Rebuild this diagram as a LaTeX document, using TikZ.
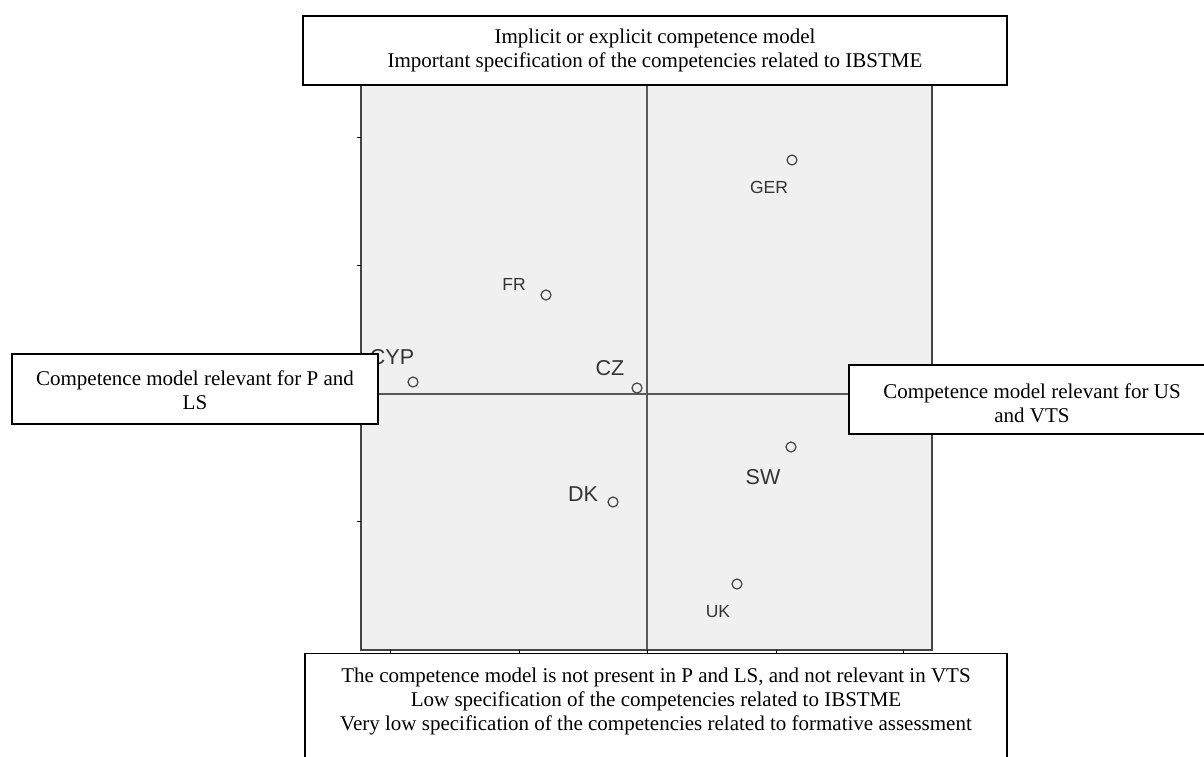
\documentclass[tikz,border=0pt]{standalone}
\usepackage{fontspec}
\setmainfont{Liberation Serif}
\newfontfamily\labelfont{Liberation Sans}
\definecolor{plotbg}{HTML}{F0F0F0}
\definecolor{framegray}{HTML}{444444}
\definecolor{axisgray}{HTML}{5A5A5A}
\definecolor{labelgray}{HTML}{333333}
\tikzset{
  infobox/.style={draw=black, line width=1.1pt, fill=white, inner sep=0pt},
  infotext/.style={align=center, inner sep=0pt, font=\fontsize{21}{24}\selectfont},
  pt/.style={circle, draw=framegray, line width=1.2pt, minimum size=10pt, inner sep=0pt},
  biglabel/.style={text=labelgray, inner sep=0pt, font=\labelfont\fontsize{21.5}{24}\selectfont},
  smalllabel/.style={text=labelgray, inner sep=0pt, font=\labelfont\fontsize{17.5}{20}\selectfont},
  tick/.style={draw=black, line width=1pt}
}
\begin{document}
\begin{tikzpicture}[x=1pt, y=-1pt]
\useasboundingbox (0,0) rectangle (1204,756);

% plot area
\fill[plotbg] (361,80) rectangle (932,650);
\draw[axisgray, line width=1.5pt] (647,80) -- (647,650);
\draw[axisgray, line width=1.5pt] (361,394) -- (932,394);
\draw[framegray, line width=1.6pt] (361,80) rectangle (932,650);

% axis ticks
\foreach \ty in {137,265,393,521} \draw[tick] (357,\ty) -- (361,\ty);
\foreach \tx in {390,519,647,776,903} \draw[tick] (\tx,650) -- (\tx,654);

% country positions
\node (ger) [pt] at (792,160) {};
\node (fr)  [pt] at (546,295) {};
\node (cyp) [pt] at (413,382) {};
\node (cz)  [pt] at (637,388) {};
\node (sw)  [pt] at (791,447) {};
\node (dk)  [pt] at (613,502) {};
\node (uk)  [pt] at (737,584) {};

% country labels
\node (gerlab) [smalllabel] at (769,187) {GER};
\node (frlab)  [smalllabel] at (514,284) {FR};
\node (uklab)  [smalllabel] at (718,612) {UK};
\node (cyplab) [biglabel] at (392,357) {CYP};
\node (czlab)  [biglabel] at (610,368) {CZ};
\node (dklab)  [biglabel] at (583,494) {DK};
\node (swlab)  [biglabel] at (763,477) {SW};

% descriptive boxes
\node (topbox) [infobox, minimum width=704pt, minimum height=69pt] at (655,50.5) {};
\node (toptext) [infotext] at (655,50) {Implicit or explicit competence model\\Important specification of the competencies related to IBSTME};

\node (leftbox) [infobox, minimum width=366pt, minimum height=70pt] at (195,389) {};
\node (lefttext) [infotext] at (195,390) {Competence model relevant for P and\\LS};

\node (rightbox) [infobox, minimum width=366pt, minimum height=69pt] at (1032,399.5) {};
\node (righttext) [infotext] at (1032,403) {Competence model relevant for US\\and VTS};

\node (bottombox) [infobox, minimum width=702pt, minimum height=130pt, anchor=north] at (656,653) {};
\node (bottomtext) [infotext] at (656,701.5) {The competence model is not present in P and LS, and not relevant in VTS\\Low specification of the competencies related to IBSTME\\Very low specification of the competencies related to formative assessment};
\end{tikzpicture}
\end{document}
